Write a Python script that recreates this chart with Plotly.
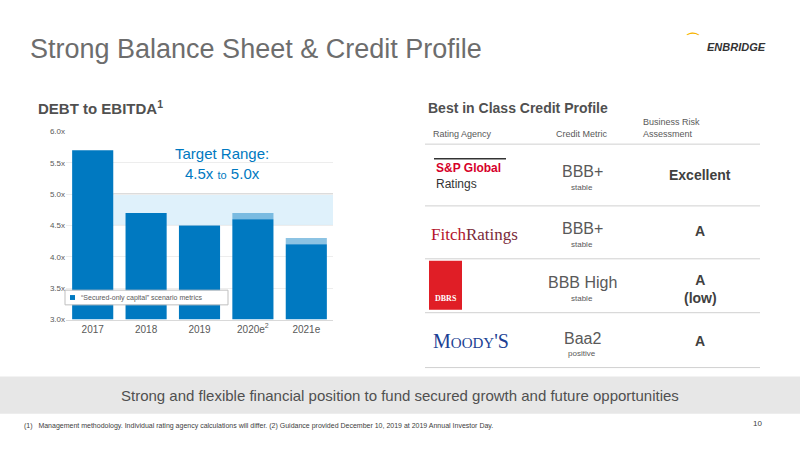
import plotly.graph_objects as go

years = ["2017", "2018", "2019", "2020e<sup>2</sup>", "2021e"]
solid = [5.7, 4.7, 4.5, 4.6, 4.2]
faded = [0.0, 0.0, 0.0, 0.1, 0.1]
yticks = [3.0, 3.5, 4.0, 4.5, 5.0, 5.5, 6.0]
ytick_labels = ["3.0x", "3.5x", "4.0x", "4.5x", "5.0x", "5.5x", "6.0x"]
target_low, target_high = 4.5, 5.0

agencies = ["S&P", "Fitch", "DBRS", "Moody's"]
metrics = ["BBB+", "BBB+", "BBB High", "Baa2"]
outlooks = ["stable", "stable", "stable", "positive"]
risk = ["Excellent", "A", "A<br>(low)", "A"]

BLUE = "#0079c1"
GREY = "#595959"
W, H = 800, 450
def px(x): return x / W
def py(y): return 1 - y / H

fig = go.Figure()
fig.add_bar(x=years, y=[s - 3.0 for s in solid], base=3.0, marker_color=BLUE,
            marker_line_width=0, width=0.77)
fig.add_bar(x=years, y=faded, base=solid, marker_color="rgba(0,121,193,0.45)",
            marker_line_width=0, width=0.77)

shapes = [
    dict(type="rect", xref="x", yref="y", x0=0.385, x1=4.5, y0=target_low, y1=target_high,
         fillcolor="#dff1fb", line_width=0, layer="below"),
    dict(type="line", xref="x", yref="y", x0=0.385, x1=4.5, y0=target_low, y1=target_low,
         line=dict(color="#a6a6a6", width=1), layer="below"),
    dict(type="line", xref="x", yref="y", x0=0.385, x1=4.5, y0=target_high, y1=target_high,
         line=dict(color="#a6a6a6", width=1), layer="below"),
    dict(type="rect", xref="paper", yref="paper", x0=px(65), x1=px(228), y0=py(307), y1=py(292),
         fillcolor="white", line=dict(color="#bfbfbf", width=1)),
    dict(type="rect", xref="paper", yref="paper", x0=px(70), x1=px(75), y0=py(302), y1=py(297),
         fillcolor=BLUE, line_width=0),
    dict(type="rect", xref="paper", yref="paper", x0=0, x1=1, y0=py(418), y1=py(380),
         fillcolor="#e7e7e7", line_width=0, layer="below"),
    dict(type="rect", xref="paper", yref="paper", x0=px(429), x1=px(462), y0=py(312), y1=py(262),
         fillcolor="#e01e26", line_width=0),
    dict(type="line", xref="paper", yref="paper", x0=px(434), x1=px(506), y0=py(158), y1=py(158),
         line=dict(color="#333", width=1.5)),
]
for yl in [143, 206, 260, 315, 371]:
    shapes.append(dict(type="line", xref="paper", yref="paper", x0=px(425), x1=px(760),
                       y0=py(yl), y1=py(yl), line=dict(color="#d0d0d0", width=1)))

ann = []
def t(x, y, text, size, color=GREY, xa="left", ya="middle", family="Arial", **kw):
    ann.append(dict(xref="paper", yref="paper", x=px(x), y=py(y), text=text, showarrow=False,
                    xanchor=xa, yanchor=ya, font=dict(size=size, color=color, family=family), **kw))

t(28, 46, "Strong Balance Sheet & Credit Profile", 27, "#6d6d6d")
t(768, 44, "<b><i>ENBRIDGE</i></b>", 11, "#333", xa="right")
t(702, 36, "<b>⌒</b>", 14, "#f7b500", xa="right")
t(36, 106, "<b>DEBT to EBITDA<sup>1</sup></b>", 15, "#505050")
t(222, 163, "Target Range:<br>4.5x <span style='font-size:11px'>to</span> 5.0x", 15, BLUE, xa="center")
t(79, 300, "\u201cSecured-only capital\u201d scenario metrics", 7, GREY)
t(426, 106, "<b>Best in Class Credit Profile</b>", 14, "#505050")
t(431, 133, "Rating Agency", 9, GREY)
t(582, 133, "Credit Metric", 9, GREY, xa="center")
t(641, 127, "Business Risk<br>Assessment", 9, GREY, align="left")
t(434, 167, "<b>S&P Global</b>", 12, "#d6002a")
t(434, 184, "Ratings", 12, "#333")
t(429, 235, "<span style='color:#b5132b'>Fitch</span><span style='color:#7a2a3a'>Ratings</span>",
  17, "#7a2a3a", family="Liberation Serif")
t(446, 301, "<b>DBRS</b>", 8, "white", xa="center", family="Liberation Serif")
t(431, 344, "M<span style='font-size:15px'>OODY</span>'S", 20, "#1b3f94", family="Liberation Serif")
rows_y = [171, 229, 284, 341]
for yv, m, o, r in zip(rows_y, metrics, outlooks, risk):
    t(582, yv, m, 16, GREY, xa="center")
    t(582, yv + 16, o, 8, GREY, xa="center")
    t(700, yv + 3 if "low" not in r else yv + 7, f"<b>{r}</b>", 14, "#404040", xa="center")
t(400, 399, "Strong and flexible financial position to fund secured growth and future opportunities",
  15, "#505050", xa="center")
t(22, 431, "(1)   Management methodology. Individual rating agency calculations will differ. (2) Guidance provided December 10, 2019 at 2019 Annual Investor Day.",
  7, "#404040")
t(764, 428, "10", 8, "#404040", xa="right")

fig.update_layout(
    width=W, height=H, margin=dict(l=0, r=0, t=0, b=0), paper_bgcolor="white",
    plot_bgcolor="white", barmode="overlay", showlegend=False, bargap=0.23,
    shapes=shapes, annotations=ann, font=dict(family="Arial"),
    xaxis=dict(domain=[px(66), px(333)], tickfont=dict(size=10, color=GREY),
               showline=True, linecolor="#d9d9d9", ticks="", range=[-0.5, 4.5]),
    yaxis=dict(domain=[py(322), py(130)], range=[3.0, 6.0], tickvals=yticks,
               ticktext=ytick_labels, tickfont=dict(size=8, color=GREY),
               gridcolor="#ededed", zeroline=False, showline=False),
)
fig.write_html("out.html", config={"displayModeBar": False},
               post_script="document.body.style.margin='0';")
